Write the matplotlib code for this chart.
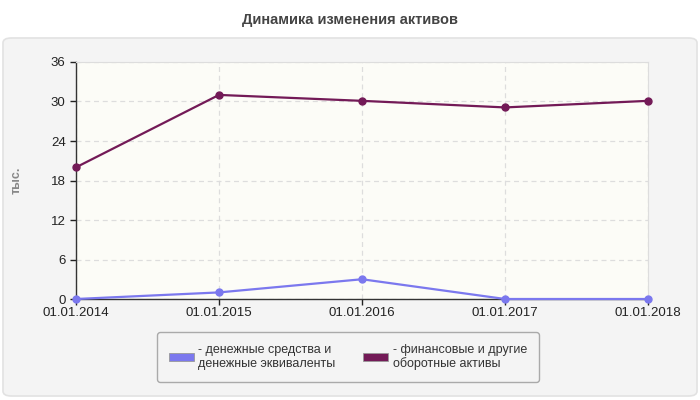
import matplotlib
matplotlib.use("Agg")
import matplotlib.pyplot as plt
from matplotlib.patches import FancyBboxPatch, Patch

plt.rcParams['font.family'] = ['Liberation Sans', 'DejaVu Sans']
plt.rcParams['hatch.linewidth'] = 0.7
plt.rcParams['hatch.color'] = '#e8e8e8'

dates = ['01.01.2014', '01.01.2015', '01.01.2016', '01.01.2017', '01.01.2018']
cash = [0, 1, 3, 0, 0]
fin_assets = [20, 31, 30.1, 29.1, 30.1]
labels = ['денежные средства и\nденежные эквиваленты', 'финансовые и другие\nоборотные активы']
colors = ['#7b78ee', '#731a57']
yticks = [0, 6, 12, 18, 24, 30, 36]

fig = plt.figure(figsize=(7, 4), dpi=100)
fig.patch.set_facecolor('white')

# grey panel behind the chart
panel = FancyBboxPatch((3 / 700, 4 / 400), 694 / 700, 358 / 400,
                       boxstyle='round,pad=0,rounding_size=0.012',
                       transform=fig.transFigure, facecolor='#f4f4f4',
                       edgecolor='#e2e2e2', linewidth=1.2, zorder=-10)
fig.patches.append(panel)

fig.text(0.5, 1 - 20 / 400, 'Динамика изменения активов', ha='center', va='center',
         fontsize=10.5, fontweight='bold', color='#444444')

ax = fig.add_axes([76 / 700, 1 - 299 / 400, 572 / 700, 237 / 400])
ax.patch.set_facecolor('#fcfcf7')
ax.patch.set_hatch('////')

x = list(range(len(dates)))
for vals, c in zip([cash, fin_assets], colors):
    ax.plot(x, vals, color=c, lw=1.6, marker='o', ms=5, zorder=3, clip_on=False)

ax.set_xlim(0, len(dates) - 1)
ax.set_ylim(0, 36)
ax.set_yticks(yticks)
ax.set_xticks(x)
ax.set_xticklabels(dates)
ax.grid(True, color='#dddddd', linestyle=(0, (4, 3)), lw=0.9)
ax.set_axisbelow(True)

for s in ['top', 'right']:
    ax.spines[s].set_color('#dddddd')
for s in ['left', 'bottom']:
    ax.spines[s].set_color('#333333')
    ax.spines[s].set_linewidth(1)
ax.tick_params(axis='both', labelsize=9.5, colors='#222222', length=4, width=1)
ax.tick_params(axis='x', pad=2)

fig.text(17 / 700, 1 - 180 / 400, 'тыс.', rotation=90, ha='center', va='center',
         fontsize=9, fontweight='bold', color='#888888')

handles = [Patch(facecolor=c, edgecolor='#999999', linewidth=0.6) for c in colors]
leg = fig.legend(handles, ['- ' + l for l in labels], ncol=2,
                 loc='center', bbox_to_anchor=(348 / 700, 1 - 357 / 400),
                 frameon=True, fontsize=9, handlelength=2.0, handleheight=0.6,
                 handletextpad=0.4, columnspacing=2.2, borderpad=0.9,
                 fancybox=True, labelcolor='#333333')
leg.get_frame().set_facecolor('#f4f4f4')
leg.get_frame().set_edgecolor('#aaaaaa')
leg.get_frame().set_alpha(1)

fig.savefig('out.png', dpi=100)
